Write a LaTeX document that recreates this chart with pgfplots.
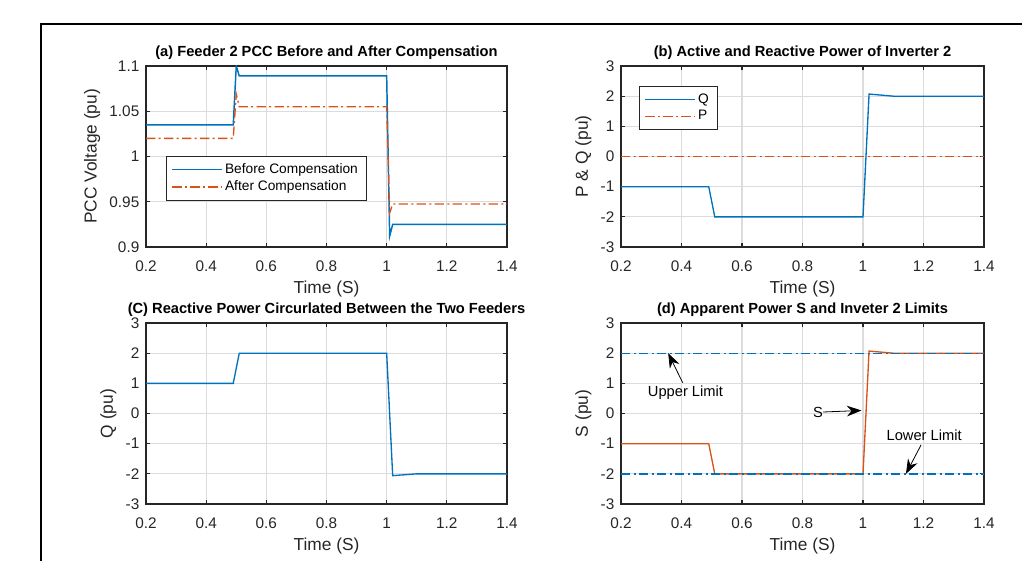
\documentclass[border=0pt]{standalone}
\usepackage{fontspec}
\setmainfont{Liberation Sans}
\usepackage{pgfplots}
\pgfplotsset{compat=1.18}
\usetikzlibrary{arrows.meta}

\definecolor{mblue}{HTML}{0072BD}
\definecolor{morange}{HTML}{D95319}
\definecolor{axgray}{HTML}{262626}
\definecolor{gridgray}{HTML}{DCDCDC}

\tikzset{arr/.style={-{Stealth[length=11pt,width=8pt]}, line width=0.6pt, black}}

\pgfplotsset{
  mat/.style={
    scale only axis,
    anchor=south west,
    xmin=0.2, xmax=1.4,
    xtick={0.2,0.4,0.6,0.8,1,1.2,1.4},
    grid=major,
    grid style={gridgray, line width=0.9pt},
    axis line style={axgray, line width=1.1pt},
    tick style={axgray, line width=0.8pt},
    tick align=inside,
    major tick length=3pt,
    ticklabel style={font=\fontsize{11.5}{13}\selectfont, text=axgray},
    xticklabel style={yshift=-7pt},
    yticklabel style={xshift=-1.5pt},
    label style={font=\fontsize{13}{15}\selectfont, text=axgray},
    title style={font=\bfseries\fontsize{11}{13}\selectfont, text=black, yshift=-5pt},
    xlabel={Time (S)},
    /pgf/number format/assume math mode=true,
    legend style={font=\fontsize{10.3}{12}\selectfont, draw=axgray, fill=white,
      anchor=north west, cells={anchor=west},
      inner xsep=4pt, inner ysep=3.5pt},
    legend image code/.code={\draw[line width=1.1pt,#1] (0pt,0pt) -- (37pt,0pt);},
  },
  bl/.style={color=mblue, draw=mblue},
  og/.style={color=morange, draw=morange},
  ddot/.style={dash pattern=on 7pt off 2.5pt on 1.5pt off 2.5pt},
}

\begin{document}
\begin{tikzpicture}
\path[use as bounding box] (0,0) rectangle (767.25pt,420.75pt);
\draw[line width=1.5pt] (30.75pt,0) -- (30.75pt,402.75pt) -- (766.5pt,402.75pt);

% (a)
\begin{axis}[mat, at={(109.5pt,235.5pt)}, width=270.75pt, height=135.75pt,
  ymin=0.9, ymax=1.1, ytick={0.9,0.95,1,1.05,1.1},
  ylabel={PCC Voltage (pu)},
  title={(a) Feeder 2 PCC Before and After Compensation},
  legend style={at={(0.0554,0.503)}}]
\addplot[bl, line width=1.1pt] coordinates {
  (0.2,1.035) (0.49,1.035) (0.50,1.1) (0.51,1.089) (1.0,1.089)
  (1.01,0.912) (1.02,0.925) (1.4,0.925)};
\addlegendentry{Before Compensation}
\addplot[og, line width=1pt, ddot] coordinates {
  (0.2,1.02) (0.49,1.02) (0.50,1.069) (0.51,1.055) (1.0,1.055)
  (1.01,0.9375) (1.02,0.9475) (1.4,0.9475)};
\addlegendentry{After Compensation}
\end{axis}

% (b)
\begin{axis}[mat, at={(465.75pt,235.5pt)}, width=272.25pt, height=135.75pt,
  ymin=-3, ymax=3, ytick={-3,-2,-1,0,1,2,3},
  ylabel={P \& Q (pu)},
  title={(b) Active and Reactive Power of Inverter 2},
  legend style={at={(0.0496,0.8895)}}]
\addplot[bl, line width=1pt] coordinates {
  (0.2,-1) (0.49,-1) (0.51,-2) (1.0,-2) (1.02,2.07) (1.1,2.0) (1.4,2.0)};
\addlegendentry{Q}
\addplot[og, line width=1pt, ddot] coordinates {
  (0.2,0) (1.4,0)};
\addlegendentry{P}
\end{axis}

% (c)
\begin{axis}[mat, at={(109.5pt,42.75pt)}, width=270.75pt, height=135.75pt,
  ymin=-3, ymax=3, ytick={-3,-2,-1,0,1,2,3},
  ylabel={Q (pu)},
  title={(C) Reactive Power Circurlated Between the Two Feeders}]
\addplot[bl, line width=1pt] coordinates {
  (0.2,1) (0.49,1) (0.51,2) (1.0,2) (1.02,-2.06) (1.1,-2.0) (1.4,-2.0)};
\end{axis}

% (d)
\begin{axis}[mat, at={(465.75pt,42.75pt)}, width=272.25pt, height=135.75pt,
  ymin=-3, ymax=3, ytick={-3,-2,-1,0,1,2,3},
  ylabel={S (pu)},
  title={(d) Apparent Power S and Inveter 2 Limits}]
\addplot[og, line width=1pt] coordinates {
  (0.2,-1) (0.49,-1) (0.51,-2) (1.0,-2) (1.02,2.07) (1.1,2.0) (1.4,2.0)};
\addplot[bl, line width=1pt, ddot] coordinates {(0.2,2) (1.4,2)};
\addplot[bl, line width=1pt, ddot] coordinates {(0.2,-2) (1.4,-2)};
\draw[arr] (axis cs:0.404,1.02) -- (axis cs:0.356,2.0);
\node[font=\fontsize{11}{13}\selectfont] at (axis cs:0.413,0.68) {Upper Limit};
\draw[arr] (axis cs:0.868,0.05) -- (axis cs:0.995,0.1);
\node[font=\fontsize{11}{13}\selectfont, anchor=east, inner sep=0pt] at (axis cs:0.868,0.03) {S};
\draw[arr] (axis cs:1.192,-1.04) -- (axis cs:1.142,-2.0);
\node[font=\fontsize{11}{13}\selectfont] at (axis cs:1.202,-0.73) {Lower Limit};
\end{axis}
\end{tikzpicture}
\end{document}
